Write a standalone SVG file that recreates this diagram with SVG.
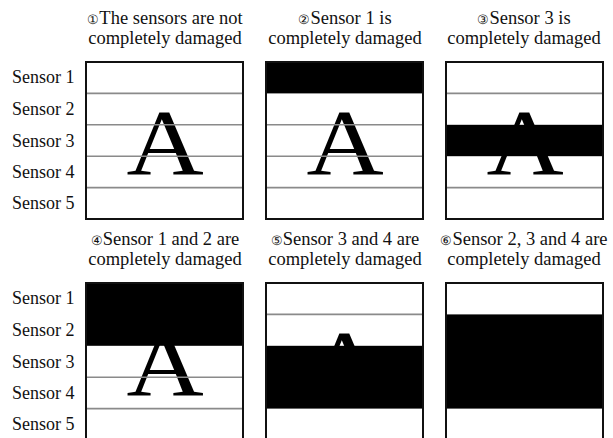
<svg xmlns="http://www.w3.org/2000/svg" width="613" height="438" viewBox="0 0 613 438">
<style>
text{font-family:"Liberation Serif","DejaVu Serif",serif;fill:#111}
.t{font-size:18.5px;text-anchor:middle}
.s{font-size:18px}
.n{font-size:13px}
.A{font-size:93px;text-anchor:middle;fill:#000}
.fr{fill:none;stroke:#111;stroke-width:2}
.ln{stroke:#8a8a8a;stroke-width:1.6}
.bk{fill:#000}
</style>
<rect width="613" height="438" fill="#fff"/>

<g id="labels-top">
<text class="s" x="12" y="83">Sensor 1</text>
<text class="s" x="12" y="115">Sensor 2</text>
<text class="s" x="12" y="147">Sensor 3</text>
<text class="s" x="12" y="178">Sensor 4</text>
<text class="s" x="12" y="209">Sensor 5</text>
</g>
<g id="labels-bottom">
<text class="s" x="12" y="304">Sensor 1</text>
<text class="s" x="12" y="336">Sensor 2</text>
<text class="s" x="12" y="368">Sensor 3</text>
<text class="s" x="12" y="399">Sensor 4</text>
<text class="s" x="12" y="430">Sensor 5</text>
</g>

<g id="panel1">
<text class="t" x="165" y="24"><tspan class="n">①</tspan>The sensors are not</text>
<text class="t" x="165" y="44">completely damaged</text>
<rect x="86" y="62" width="157" height="157" fill="#fff"/>
<text class="A" transform="translate(165,174) scale(1.15,1)">A</text>
<line class="ln" x1="86" y1="93.4" x2="243" y2="93.4"/>
<line class="ln" x1="86" y1="124.8" x2="243" y2="124.8"/>
<line class="ln" x1="86" y1="156.2" x2="243" y2="156.2"/>
<line class="ln" x1="86" y1="187.6" x2="243" y2="187.6"/>
<rect class="fr" x="86" y="62" width="157" height="157"/>
</g>

<g id="panel2">
<text class="t" x="345" y="24"><tspan class="n">②</tspan>Sensor 1 is</text>
<text class="t" x="345" y="44">completely damaged</text>
<rect x="266" y="62" width="157" height="157" fill="#fff"/>
<text class="A" transform="translate(345,174) scale(1.15,1)">A</text>
<line class="ln" x1="266" y1="124.8" x2="423" y2="124.8"/>
<line class="ln" x1="266" y1="156.2" x2="423" y2="156.2"/>
<line class="ln" x1="266" y1="187.6" x2="423" y2="187.6"/>
<rect class="bk" x="266" y="62" width="157" height="31.4"/>
<rect class="fr" x="266" y="62" width="157" height="157"/>
</g>

<g id="panel3">
<text class="t" x="524" y="24"><tspan class="n">③</tspan>Sensor 3 is</text>
<text class="t" x="524" y="44">completely damaged</text>
<rect x="446" y="62" width="157" height="157" fill="#fff"/>
<text class="A" transform="translate(525,174) scale(1.15,1)">A</text>
<line class="ln" x1="446" y1="93.4" x2="603" y2="93.4"/>
<line class="ln" x1="446" y1="187.6" x2="603" y2="187.6"/>
<rect class="bk" x="446" y="124.8" width="157" height="31.4"/>
<rect class="fr" x="446" y="62" width="157" height="157"/>
</g>

<g id="panel4">
<text class="t" x="165" y="245"><tspan class="n">④</tspan>Sensor 1 and 2 are</text>
<text class="t" x="165" y="265">completely damaged</text>
<rect x="86" y="283" width="157" height="160" fill="#fff"/>
<text class="A" transform="translate(165,395) scale(1.15,1)">A</text>
<line class="ln" x1="86" y1="377.2" x2="243" y2="377.2"/>
<line class="ln" x1="86" y1="408.6" x2="243" y2="408.6"/>
<rect class="bk" x="86" y="283" width="157" height="62.8"/>
<rect class="fr" x="86" y="283" width="157" height="157"/>
</g>

<g id="panel5">
<text class="t" x="345" y="245"><tspan class="n">⑤</tspan>Sensor 3 and 4 are</text>
<text class="t" x="345" y="265">completely damaged</text>
<rect x="266" y="283" width="157" height="160" fill="#fff"/>
<text class="A" transform="translate(345,395) scale(1.15,1)">A</text>
<line class="ln" x1="266" y1="314.4" x2="423" y2="314.4"/>
<rect class="bk" x="266" y="345.8" width="157" height="62.8"/>
<rect class="fr" x="266" y="283" width="157" height="157"/>
</g>

<g id="panel6">
<text class="t" x="524" y="245"><tspan class="n">⑥</tspan>Sensor 2, 3 and 4 are</text>
<text class="t" x="524" y="265">completely damaged</text>
<rect x="446" y="283" width="157" height="160" fill="#fff"/>
<rect class="bk" x="446" y="314.4" width="157" height="94.2"/>
<rect class="fr" x="446" y="283" width="157" height="157"/>
</g>

<g id="connectors"/>
</svg>
